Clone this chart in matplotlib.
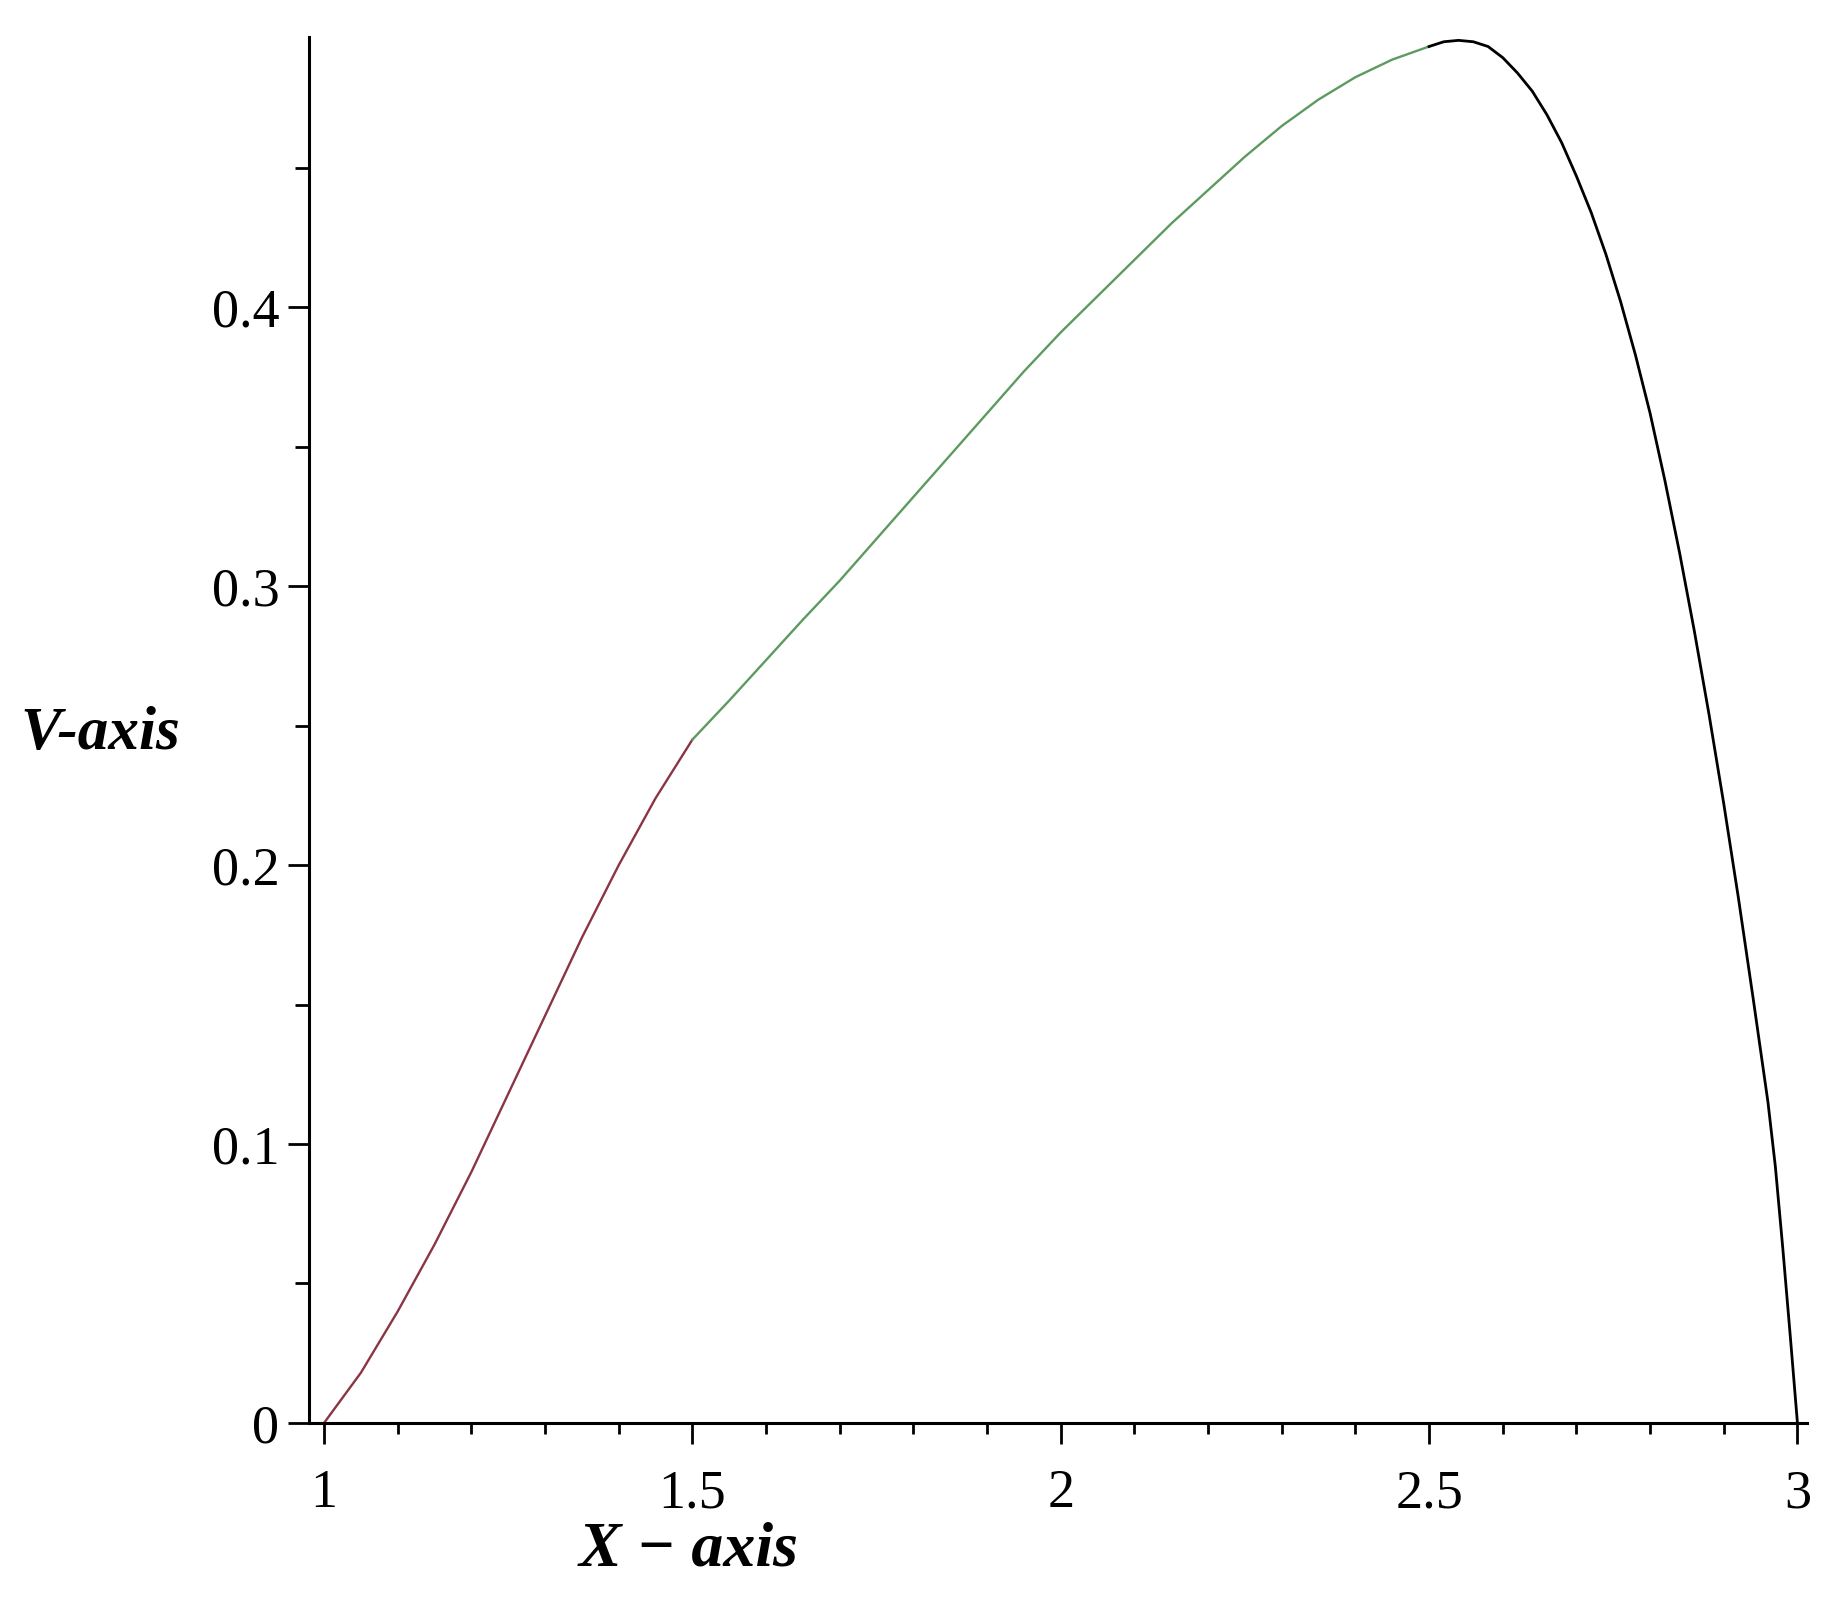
import numpy as np
import matplotlib
matplotlib.use("Agg")
import matplotlib.pyplot as plt

# curve, in three coloured pieces
x_red = [1.00, 1.05, 1.10, 1.15, 1.20, 1.25, 1.30, 1.35, 1.40, 1.45, 1.50]
y_red = [0.000, 0.018, 0.040, 0.064, 0.090, 0.118, 0.146, 0.174, 0.200, 0.224, 0.245]

x_green = [1.50, 1.55, 1.60, 1.65, 1.70, 1.75, 1.80, 1.85, 1.90, 1.95, 2.00, 2.05,
           2.10, 2.15, 2.20, 2.25, 2.30, 2.35, 2.40, 2.45, 2.50]
y_green = [0.245, 0.259, 0.2735, 0.288, 0.302, 0.317, 0.332, 0.347, 0.362, 0.377, 0.391, 0.404,
           0.417, 0.430, 0.442, 0.454, 0.465, 0.4745, 0.4825, 0.4888, 0.4935]

x_black = [2.50, 2.52, 2.54, 2.56, 2.58, 2.60, 2.62, 2.64, 2.66, 2.68, 2.70, 2.72, 2.74,
           2.76, 2.78, 2.80, 2.82, 2.84, 2.86, 2.88, 2.90, 2.92, 2.94, 2.96, 2.97, 2.98, 2.99, 3.00]
y_black = [0.4935, 0.4952, 0.4957, 0.4952, 0.4935, 0.4895, 0.484, 0.4775, 0.469, 0.459, 0.447, 0.434, 0.419,
           0.402, 0.383, 0.362, 0.338, 0.312, 0.284, 0.254, 0.222, 0.188, 0.152, 0.115, 0.092, 0.063, 0.032, 0.0]

x_ticks = [1, 1.5, 2, 2.5, 3]
x_tick_labels = ["1", "1.5", "2", "2.5", "3"]
y_ticks = [0, 0.1, 0.2, 0.3, 0.4]
y_tick_labels = ["0", "0.1", "0.2", "0.3", "0.4"]

W, H = 1826, 1597
fig = plt.figure(figsize=(W / 100, H / 100), dpi=100)
ax = fig.add_axes([0.169, 0.109, 0.8206, 0.868])

ax.plot(x_red, y_red, color="#8a3444", lw=1.7)
ax.plot(x_green, y_green, color="#5c9a60", lw=1.7)
ax.plot(x_black, y_black, color="black", lw=2.0)

ax.set_xlim(0.979, 3.013)
ax.set_ylim(0, 0.497)

for s in ["top", "right"]:
    ax.spines[s].set_visible(False)
for s in ["left", "bottom"]:
    ax.spines[s].set_linewidth(2.2)

ax.set_xticks(x_ticks)
ax.set_xticklabels(x_tick_labels)
ax.set_xticks(np.arange(1.1, 3.0, 0.1), minor=True)
ax.set_yticks(y_ticks)
ax.set_yticklabels(y_tick_labels)
ax.set_yticks([0.05, 0.15, 0.25, 0.35, 0.45], minor=True)

for lab in ax.get_xticklabels() + ax.get_yticklabels():
    lab.set_fontfamily("Liberation Serif")
    lab.set_fontsize(39)

ax.tick_params(axis="x", which="major", direction="out", length=15, width=2, pad=18)
ax.tick_params(axis="x", which="minor", direction="out", length=8, width=2)
ax.tick_params(axis="y", which="major", direction="out", length=15, width=2, pad=6)
ax.tick_params(axis="y", which="minor", direction="out", length=10, width=2)

fig.text(689 / W, 1 - 1550 / H, "X \u2212 axis", ha="center", va="center",
         family="Liberation Serif", style="italic", weight="bold", fontsize=46)
fig.text(100 / W, 1 - 734 / H, "V-axis", ha="center", va="center",
         family="Liberation Serif", style="italic", weight="bold", fontsize=44)

fig.savefig("out.png", dpi=100, facecolor="white")
